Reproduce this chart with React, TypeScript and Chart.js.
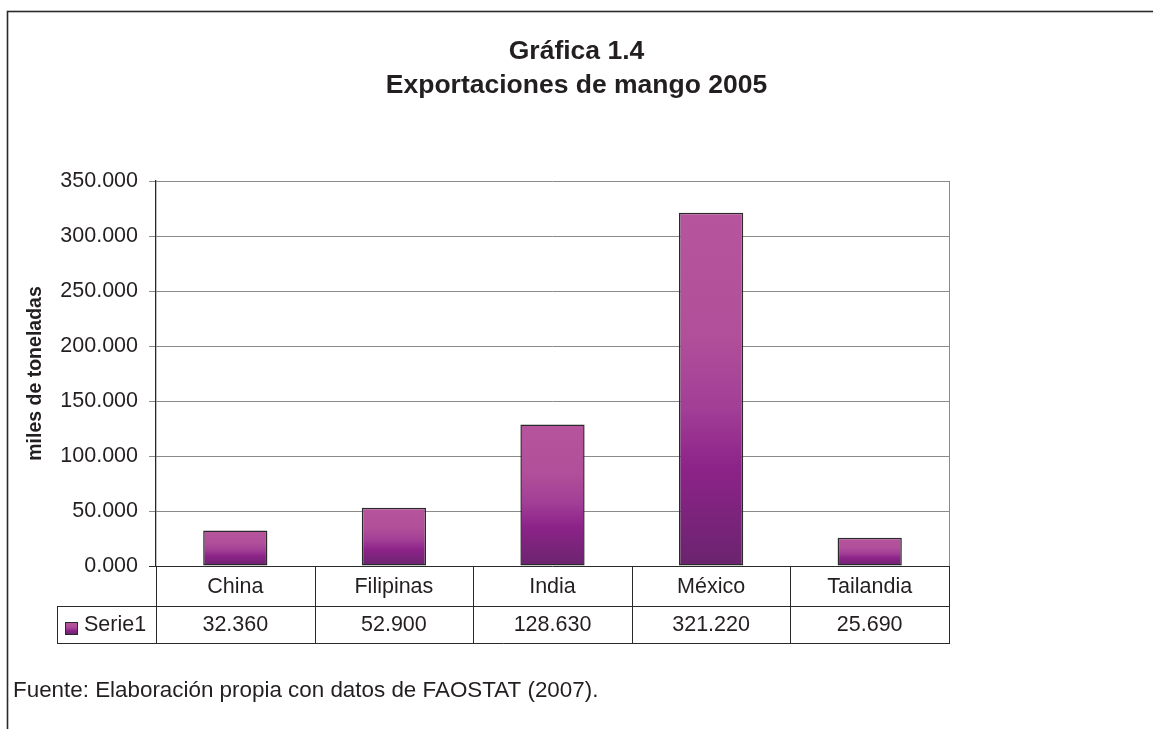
import React, { useEffect, useRef } from "react";
import { Chart, registerables } from "chart.js";

Chart.register(...registerables);

const titleLines = ["Gráfica 1.4", "Exportaciones de mango 2005"];
const categories = ["China", "Filipinas", "India", "México", "Tailandia"];
const seriesName = "Serie1";
const seriesValues = [32.36, 52.9, 128.63, 321.22, 25.69];
const yAxisTitle = "miles de toneladas";
const yMin = 0;
const yMax = 350;
const yStep = 50;
const footerText = "Fuente: Elaboración propia con datos de FAOSTAT (2007).";

const FONT = "'Liberation Sans', Arial, Helvetica, sans-serif";
const W = 1153;
const H = 729;

const fmt = (v: number) => v.toFixed(3);

function makeGradient(ctx: CanvasRenderingContext2D, top: number, bottom: number) {
  const g = ctx.createLinearGradient(0, top, 0, bottom);
  g.addColorStop(0, "#B6559D");
  g.addColorStop(0.35, "#B14F9A");
  g.addColorStop(0.55, "#A23F96");
  g.addColorStop(0.72, "#8D2389");
  g.addColorStop(1, "#6A246E");
  return g;
}

const decorPlugin = {
  id: "decor",
  beforeDraw(chart: any) {
    const ctx = chart.ctx as CanvasRenderingContext2D;
    ctx.save();
    ctx.fillStyle = "#ffffff";
    ctx.fillRect(0, 0, chart.width, chart.height);
    ctx.restore();
  },
  afterDraw(chart: any) {
    const ctx = chart.ctx as CanvasRenderingContext2D;
    const area = chart.chartArea;
    const xs = chart.scales.x;
    const n = categories.length;
    const cw = (area.right - area.left) / n;
    ctx.save();

    // outer frame
    ctx.strokeStyle = "#2a2a2a";
    ctx.lineWidth = 1.6;
    ctx.strokeRect(7.5, 11.5, W + 20, H + 20);

    // title
    ctx.fillStyle = "#231f20";
    ctx.textAlign = "center";
    ctx.textBaseline = "alphabetic";
    ctx.font = `bold 26.5px ${FONT}`;
    ctx.fillText(titleLines[0], W / 2, 59);
    ctx.fillText(titleLines[1], W / 2, 93);

    // plot right border
    ctx.strokeStyle = "#8a8a8a";
    ctx.lineWidth = 1;
    ctx.beginPath();
    ctx.moveTo(Math.round(area.right) + 0.5, area.top);
    ctx.lineTo(Math.round(area.right) + 0.5, area.bottom);
    ctx.stroke();

    // data table
    const rowTop = area.bottom;
    const row1 = rowTop + 40;
    const row2 = row1 + 37;
    const legendLeft = 57;
    ctx.strokeStyle = "#2a2a2a";
    ctx.lineWidth = 1;
    ctx.beginPath();
    ctx.moveTo(legendLeft, Math.round(row1) + 0.5);
    ctx.lineTo(area.right, Math.round(row1) + 0.5);
    ctx.moveTo(legendLeft, Math.round(row2) + 0.5);
    ctx.lineTo(area.right + 0.5, Math.round(row2) + 0.5);
    ctx.moveTo(legendLeft + 0.5, Math.round(row1));
    ctx.lineTo(legendLeft + 0.5, Math.round(row2) + 1);
    for (let i = 0; i <= n; i++) {
      const bx = Math.round(i === n ? area.right : xs.getPixelForValue(i) - cw / 2) + 0.5;
      ctx.moveTo(bx, rowTop);
      ctx.lineTo(bx, Math.round(row2) + 1);
    }
    ctx.stroke();

    ctx.fillStyle = "#231f20";
    ctx.font = `21.5px ${FONT}`;
    ctx.textAlign = "center";
    ctx.textBaseline = "middle";
    for (let i = 0; i < n; i++) {
      const cx = xs.getPixelForValue(i);
      ctx.fillText(categories[i], cx, (rowTop + row1) / 2 + 1);
      ctx.fillText(fmt(seriesValues[i]), cx, (row1 + row2) / 2 + 1);
    }

    // legend swatch
    const sx = 65, sy = 622, ss = 12;
    ctx.fillStyle = makeGradient(ctx, sy, sy + ss);
    ctx.fillRect(sx, sy, ss, ss);
    ctx.strokeStyle = "#2a2a2a";
    ctx.strokeRect(sx + 0.5, sy + 0.5, ss, ss);
    ctx.fillStyle = "#231f20";
    ctx.textAlign = "left";
    ctx.fillText(seriesName, 84, (row1 + row2) / 2 + 1);

    // footer
    ctx.textBaseline = "alphabetic";
    ctx.font = `22.4px ${FONT}`;
    ctx.fillText(footerText, 13, 697);

    ctx.restore();
  },
};

export default function App() {
  const ref = useRef<HTMLCanvasElement | null>(null);

  useEffect(() => {
    if (!ref.current) return;
    const chart = new Chart(ref.current, {
      type: "bar",
      data: {
        labels: categories,
        datasets: [
          {
            label: seriesName,
            data: seriesValues,
            backgroundColor: (c: any) => {
              const ch = c.chart;
              const y = ch.scales && ch.scales.y;
              if (c.type !== "data" || !y || !ch.chartArea) return "#A8449A";
              const top = y.getPixelForValue(c.raw as number);
              const base = y.getPixelForValue(0);
              return makeGradient(ch.ctx, top, base);
            },
            borderColor: "#2a2a2a",
            borderWidth: 1.5,
            borderSkipped: false,
            barPercentage: 0.405,
            categoryPercentage: 1,
          },
        ],
      },
      options: {
        responsive: false,
        animation: false,
        devicePixelRatio: 1,
        layout: { padding: { left: 0, right: 204, top: 181, bottom: 163 } },
        plugins: {
          legend: { display: false },
          title: { display: false },
          tooltip: { enabled: false },
        },
        scales: {
          x: {
            offset: true,
            grid: { display: false, drawTicks: false },
            ticks: { display: false },
            border: { display: false },
            afterFit: (s: any) => {
              s.height = 0;
            },
          },
          y: {
            min: yMin,
            max: yMax,
            afterFit: (s: any) => {
              s.width = 156;
            },
            ticks: {
              stepSize: yStep,
              padding: 11,
              color: "#231f20",
              font: { family: FONT, size: 21.5 },
              callback: (v: any) => fmt(Number(v)),
            },
            grid: {
              color: (c: any) => (c.tick && c.tick.value === 0 ? "#2a2a2a" : "#8a8a8a"),
              lineWidth: 1,
              tickLength: 7,
            },
            border: { display: true, color: "#2a2a2a", width: 1.3 },
            title: {
              display: true,
              text: yAxisTitle,
              color: "#231f20",
              font: { family: FONT, size: 19.5, weight: "bold" },
              padding: { top: 24, bottom: 0 },
            },
          },
        },
      },
      plugins: [decorPlugin],
    });
    return () => chart.destroy();
  }, []);

  return (
    <div style={{ position: "fixed", left: 0, top: 0, width: W, height: H, background: "#fff" }}>
      <canvas ref={ref} width={W} height={H} style={{ display: "block" }} />
    </div>
  );
}
